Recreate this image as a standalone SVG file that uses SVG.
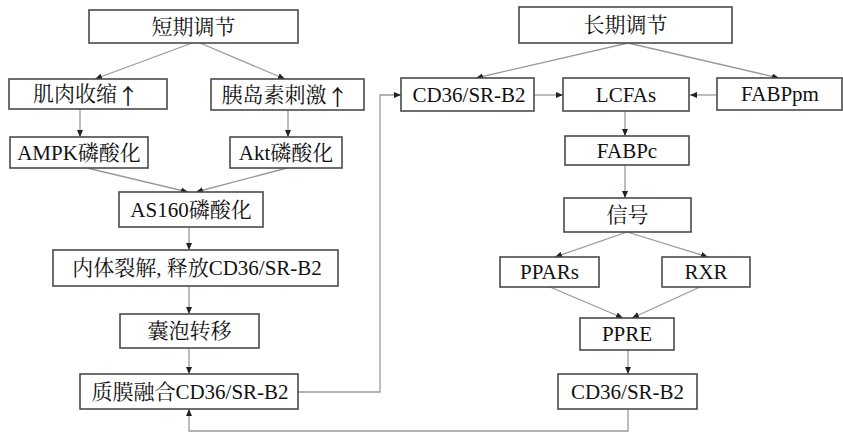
<svg xmlns="http://www.w3.org/2000/svg" width="843" height="432" viewBox="0 0 843 432">
<style>
.box{fill:#fff;stroke:#4a4a4a;stroke-width:1.6}
.t{font-family:"Liberation Serif","Noto Serif CJK SC","Noto Sans CJK SC",serif;font-size:21px;fill:#111;text-anchor:middle;dominant-baseline:central}
.up{font-family:"Noto Sans CJK SC",sans-serif;font-size:22px}
.c{fill:none;stroke:#9a9a9a;stroke-width:1.3;marker-end:url(#ah)}
</style>
<defs>
<marker id="ah" markerUnits="userSpaceOnUse" markerWidth="8" markerHeight="7" refX="7" refY="3" orient="auto">
<path d="M0,0 L7,3 L0,6 z" fill="#222"/>
</marker>
</defs>
<rect width="843" height="432" fill="#fff"/>
<g id="connectors">
<line class="c" x1="192" y1="43" x2="95" y2="79"/>
<line class="c" x1="200" y1="43" x2="285" y2="79"/>
<line class="c" x1="80" y1="109" x2="80" y2="137"/>
<line class="c" x1="288" y1="110" x2="288" y2="137"/>
<line class="c" x1="87" y1="168" x2="188" y2="192"/>
<line class="c" x1="287" y1="168" x2="196" y2="192"/>
<line class="c" x1="189" y1="227" x2="189" y2="250"/>
<line class="c" x1="189" y1="286" x2="189" y2="314"/>
<line class="c" x1="189" y1="348" x2="189" y2="374"/>
<polyline class="c" points="298,392 380,392 380,95 401,95"/>
<line class="c" x1="628" y1="43" x2="476" y2="78"/>
<line class="c" x1="628" y1="43" x2="779" y2="78"/>
<line class="c" x1="534" y1="95" x2="563" y2="95"/>
<line class="c" x1="717" y1="95" x2="690" y2="95"/>
<line class="c" x1="625" y1="111" x2="625" y2="136"/>
<line class="c" x1="625" y1="165" x2="625" y2="198"/>
<line class="c" x1="627" y1="232" x2="555" y2="257"/>
<line class="c" x1="627" y1="232" x2="708" y2="257"/>
<line class="c" x1="550" y1="287" x2="623" y2="318"/>
<line class="c" x1="700" y1="287" x2="632" y2="318"/>
<line class="c" x1="628" y1="350" x2="628" y2="374"/>
<polyline class="c" points="628,409 628,431 189,431 189,409"/>
</g>
<g id="n1"><rect class="box" x="89" y="10" width="209" height="33"/><text class="t" x="193.5" y="26.5">短期调节</text></g>
<g id="n2"><rect class="box" x="9" y="79" width="158" height="30"/><text class="t" x="86" y="94">肌肉收缩<tspan class="up">↑</tspan></text></g>
<g id="n3"><rect class="box" x="211" y="79" width="153" height="31"/><text class="t" x="285" y="94.5">胰岛素刺激<tspan class="up">↑</tspan></text></g>
<g id="n4"><rect class="box" x="10" y="137" width="138" height="31"/><text class="t" x="79" y="152.5">AMPK磷酸化</text></g>
<g id="n5"><rect class="box" x="230" y="137" width="112" height="31"/><text class="t" x="286" y="152.5">Akt磷酸化</text></g>
<g id="n6"><rect class="box" x="119" y="192" width="144" height="35"/><text class="t" x="191" y="209.5">AS160磷酸化</text></g>
<g id="n7"><rect class="box" x="53" y="250" width="285" height="36"/><text class="t" x="197" y="268">内体裂解, 释放CD36/SR-B2</text></g>
<g id="n8"><rect class="box" x="120" y="314" width="139" height="34"/><text class="t" x="189.5" y="331">囊泡转移</text></g>
<g id="n9"><rect class="box" x="80" y="374" width="218" height="35"/><text class="t" x="190" y="391.5">质膜融合CD36/SR-B2</text></g>
<g id="n10"><rect class="box" x="519" y="7" width="213" height="36"/><text class="t" x="625.5" y="25">长期调节</text></g>
<g id="n11"><rect class="box" x="401" y="78" width="133" height="33"/><text class="t" x="469" y="94.5">CD36/SR-B2</text></g>
<g id="n12"><rect class="box" x="563" y="78" width="126" height="33"/><text class="t" x="626" y="94.5">LCFAs</text></g>
<g id="n13"><rect class="box" x="717" y="78" width="125" height="32"/><text class="t" x="780" y="94">FABPpm</text></g>
<g id="n14"><rect class="box" x="565" y="136" width="124" height="29"/><text class="t" x="627" y="150.5">FABPc</text></g>
<g id="n15"><rect class="box" x="564" y="198" width="127" height="34"/><text class="t" x="627.5" y="215">信号</text></g>
<g id="n16"><rect class="box" x="500" y="257" width="99" height="30"/><text class="t" x="549.5" y="272">PPARs</text></g>
<g id="n17"><rect class="box" x="662" y="257" width="88" height="30"/><text class="t" x="706" y="272">RXR</text></g>
<g id="n18"><rect class="box" x="580" y="318" width="94" height="32"/><text class="t" x="627" y="334">PPRE</text></g>
<g id="n19"><rect class="box" x="558" y="374" width="139" height="35"/><text class="t" x="627.5" y="391.5">CD36/SR-B2</text></g>
</svg>
